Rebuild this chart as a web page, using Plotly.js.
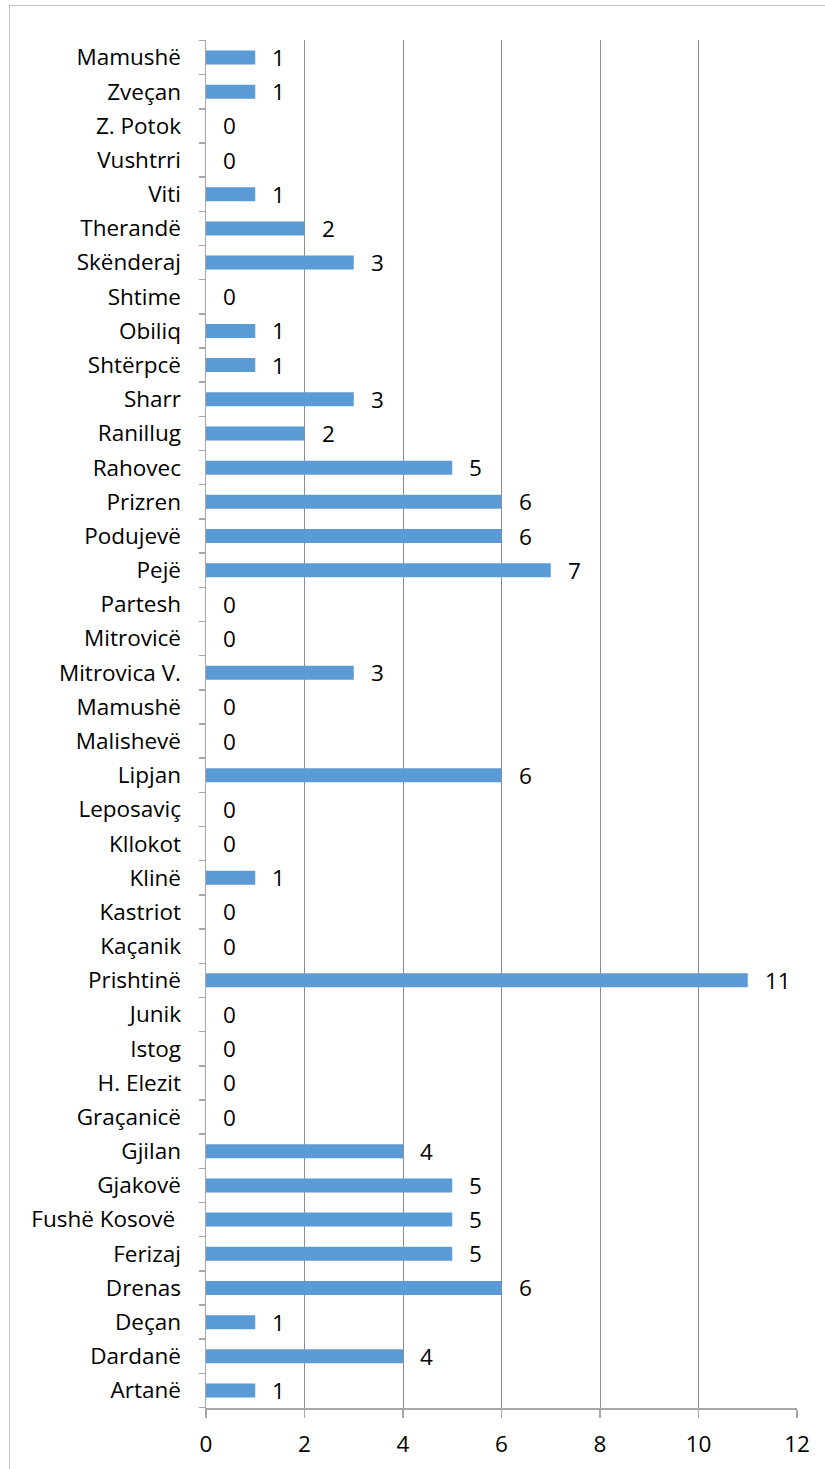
<!DOCTYPE html>
<html><head><meta charset="utf-8">
<script src="https://cdn.plot.ly/plotly-3.0.1.min.js"></script>
<style>
html,body{margin:0;padding:0;background:#fff;}
#wrap{position:relative;width:825px;height:1469px;overflow:hidden;}
#chart{position:absolute;left:0;top:0;width:825px;height:1469px;}
#frame{position:absolute;left:9px;top:5px;width:900px;height:1600px;border:1.5px solid #c0c0c0;pointer-events:none;box-sizing:border-box;}
</style></head>
<body><div id="wrap"><div id="chart"></div><div id="frame"></div></div>
<script>
// bottom to top
const categories = ["Artanë","Dardanë","Deçan","Drenas","Ferizaj","Fushë Kosovë\u00a0","Gjakovë","Gjilan","Graçanicë","H. Elezit","Istog","Junik","Prishtinë","Kaçanik","Kastriot","Klinë","Kllokot","Leposaviç","Lipjan","Malishevë","Mamushë\u200b","Mitrovica V.","Mitrovicë","Partesh","Pejë","Podujevë","Prizren","Rahovec","Ranillug","Sharr","Shtërpcë","Obiliq","Shtime","Skënderaj","Therandë","Viti","Vushtrri","Z. Potok","Zveçan","Mamushë"];
const values = [1,4,1,6,5,5,5,4,0,0,0,0,11,0,0,1,0,0,6,0,0,3,0,0,7,6,6,5,2,3,1,1,0,3,2,1,0,0,1,1];
const xTicks = [0,2,4,6,8,10,12];

const font = {family:"'Open Sans', sans-serif", size:22.5, color:"#000"};

const trace = {
  type:"bar", orientation:"h", x:values, y:categories,
  marker:{color:"#5b9bd5"}, hoverinfo:"none"
};

const annotations = values.map((v,i)=>({
  x:v, y:categories[i], xref:"x", yref:"y", text:String(v),
  showarrow:false, xanchor:"left", yanchor:"middle", xshift:15, font:font
}));

const layout = {
  width:825, height:1469,
  margin:{l:206, r:28, t:40, b:61},
  paper_bgcolor:"#fff", plot_bgcolor:"#fff",
  bargap:0.59,
  showlegend:false,
  font:font,
  xaxis:{range:[0,12], tickvals:xTicks, ticktext:xTicks.map(String),
    showgrid:true, gridcolor:"#8c8c8c", gridwidth:1,
    showline:true, linecolor:"#a6a6a6", linewidth:1.5,
    ticks:"outside", ticklen:8, tickcolor:"#a6a6a6", tickwidth:1.5,
    zeroline:false, fixedrange:true, tickfont:font, ticklabelstandoff:7},
  yaxis:{type:"category", categoryorder:"array", categoryarray:categories,
    showline:true, linecolor:"#a6a6a6", linewidth:1.5,
    ticks:"outside", ticklen:6, tickcolor:"#a6a6a6", tickwidth:1.5,
    tickson:"boundaries", showgrid:false, zeroline:false, fixedrange:true,
    ticklabelstandoff:19, tickfont:font},
  annotations:annotations
};
Plotly.newPlot("chart",[trace],layout,{displayModeBar:false,staticPlot:true});
</script></body></html>
